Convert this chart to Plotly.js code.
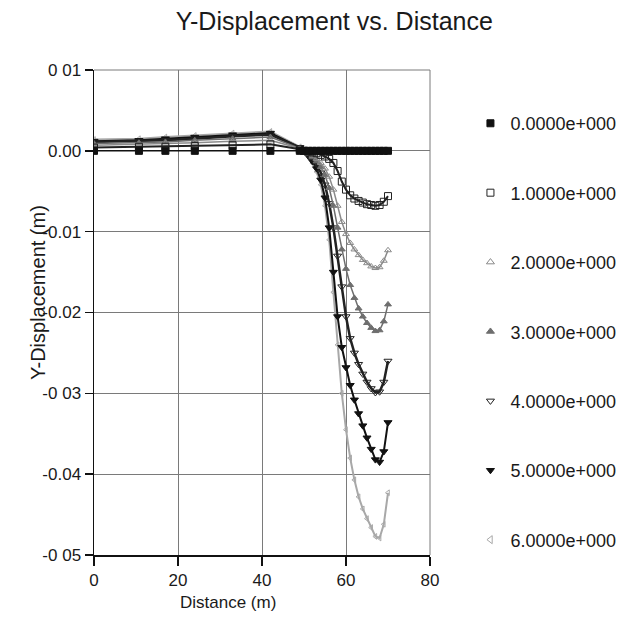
<!DOCTYPE html>
<html>
<head>
<meta charset="utf-8">
<script src="https://cdn.plot.ly/plotly-3.0.1.min.js"></script>
<style>html,body{margin:0;padding:0;background:#fff;}#chart{width:619px;height:633px;}</style>
</head>
<body>
<div id="chart"></div>
<script>
// Distance nodes (m)
var distance = [0, 10.7, 17, 24, 33, 42, 49, 50, 51, 52, 53, 54, 55, 56, 57, 58, 59, 60, 61, 62, 63, 64, 65, 66, 67, 68, 69, 70];

// Y-displacement (m) for each time step
var disp0 = [0, 0, 0, 0, 0, 0, 0, 0, 0, 0, 0, 0, 0, 0, 0, 0, 0, 0, 0, 0, 0, 0, 0, 0, 0, 0, 0, 0];
var disp1 = [0.0004, 0.0005, 0.0005, 0.0006, 0.0007, 0.0008, 0.0002, 0.0000, -0.0001, -0.0002, -0.0003, -0.0005, -0.0007, -0.0010, -0.0015, -0.0025, -0.0038, -0.0048, -0.0055, -0.0059, -0.0062, -0.0064, -0.0066, -0.0067, -0.0068, -0.0067, -0.0063, -0.0056];
var disp2 = [0.0007, 0.0008, 0.0009, 0.0010, 0.0012, 0.0013, 0.0003, 0.0000, -0.0003, -0.0006, -0.0010, -0.0015, -0.0022, -0.0032, -0.0048, -0.0068, -0.0088, -0.0103, -0.0114, -0.0122, -0.0129, -0.0135, -0.0139, -0.0143, -0.0145, -0.0144, -0.0136, -0.0123];
var disp3 = [0.0009, 0.0010, 0.0011, 0.0013, 0.0015, 0.0017, 0.0003, 0.0000, -0.0004, -0.0008, -0.0013, -0.0020, -0.0030, -0.0046, -0.0068, -0.0095, -0.0122, -0.0146, -0.0166, -0.0182, -0.0195, -0.0205, -0.0213, -0.0219, -0.0223, -0.0222, -0.0211, -0.0190];
var disp4 = [0.0011, 0.0012, 0.0013, 0.0015, 0.0018, 0.0020, 0.0004, 0.0000, -0.0005, -0.0010, -0.0017, -0.0027, -0.0042, -0.0065, -0.0095, -0.0130, -0.0168, -0.0205, -0.0232, -0.0250, -0.0264, -0.0276, -0.0286, -0.0294, -0.0299, -0.0298, -0.0286, -0.0260];
var disp5 = [0.0012, 0.0013, 0.0015, 0.0017, 0.0020, 0.0022, 0.0004, 0.0000, -0.0006, -0.0013, -0.0022, -0.0036, -0.0058, -0.0095, -0.0150, -0.0205, -0.0243, -0.0268, -0.0290, -0.0308, -0.0325, -0.0340, -0.0355, -0.0369, -0.0382, -0.0385, -0.0372, -0.0336];
var disp6 = [0.0014, 0.0015, 0.0017, 0.0019, 0.0022, 0.0024, 0.0005, 0.0000, -0.0007, -0.0015, -0.0026, -0.0042, -0.0068, -0.0110, -0.0175, -0.0240, -0.0300, -0.0345, -0.0380, -0.0407, -0.0428, -0.0443, -0.0455, -0.0466, -0.0477, -0.0479, -0.0462, -0.0423];

var seriesNames = ["0.0000e+000", "1.0000e+000", "2.0000e+000", "3.0000e+000", "4.0000e+000", "5.0000e+000", "6.0000e+000"];

// Axis ticks as printed
var xTickVals = [0, 20, 40, 60, 80];
var yTickVals = [0.01, 0, -0.01, -0.02, -0.03, -0.04, -0.05];
var yTickText = ["0 01", "0.00", "-0.01", "-0.02", "-0 03", "-0.04", "-0 05"];

var allDisp = [disp0, disp1, disp2, disp3, disp4, disp5, disp6];
var styles = [
  {sym: "square", mcol: "#111", lcol: "#111", lw: 1.5, size: 7},
  {sym: "square-open", mcol: "#222", lcol: "#222", lw: 2, size: 7},
  {sym: "triangle-up-open", mcol: "#8a8a8a", lcol: "#8a8a8a", lw: 1.5, size: 6},
  {sym: "triangle-up", mcol: "#6e6e6e", lcol: "#6e6e6e", lw: 1.5, size: 6},
  {sym: "triangle-down-open", mcol: "#222", lcol: "#222", lw: 2.5, size: 7},
  {sym: "triangle-down", mcol: "#111", lcol: "#111", lw: 2, size: 7},
  {sym: "triangle-left-open", mcol: "#a8a8a8", lcol: "#a8a8a8", lw: 2, size: 5}
];

var traces = [];
// plotted curves (drawn last-to-first so black curves stay on top of the light one)
for (var i = allDisp.length - 1; i >= 0; i--) {
  var s = styles[i];
  traces.push({
    x: distance,
    y: allDisp[i],
    name: seriesNames[i],
    type: "scatter",
    mode: "lines+markers",
    showlegend: false,
    line: {color: s.lcol, width: s.lw},
    marker: {symbol: s.sym, color: s.mcol, size: s.size, line: {color: s.mcol, width: 1}}
  });
}
// legend entries: markers only, as in the reference
for (var j = 0; j < allDisp.length; j++) {
  var st = styles[j];
  traces.push({
    x: [null],
    y: [null],
    name: seriesNames[j],
    type: "scatter",
    mode: "markers",
    legendgroup: "g" + j,
    showlegend: true,
    marker: {symbol: st.sym, color: st.mcol, size: 7, line: {color: st.mcol, width: 1}}
  });
}

var font = "Liberation Sans, Arial, sans-serif";
var layout = {
  width: 619,
  height: 633,
  margin: {l: 94, r: 189, t: 70, b: 78},
  paper_bgcolor: "#ffffff",
  plot_bgcolor: "#ffffff",
  font: {family: font, color: "#1a1a1a", size: 17},
  title: {text: "Y-Displacement vs. Distance", x: 0.54, xanchor: "center", y: 0.966, yanchor: "middle", font: {size: 25, family: font, color: "#1a1a1a"}},
  xaxis: {
    range: [0, 80],
    tickvals: xTickVals,
    ticks: "outside", ticklen: 9, tickcolor: "#111", tickwidth: 1.5,
    showline: true, linecolor: "#111", linewidth: 1.5,
    showgrid: true, gridcolor: "#7a7a7a", gridwidth: 1,
    zeroline: false,
    tickfont: {size: 17, family: font}
  },
  yaxis: {
    range: [-0.05, 0.01],
    tickvals: yTickVals,
    ticktext: yTickText,
    ticks: "outside", ticklen: 8, tickcolor: "#111", tickwidth: 1.5,
    showline: true, linecolor: "#111", linewidth: 1.5,
    showgrid: true, gridcolor: "#7a7a7a", gridwidth: 1,
    zeroline: false,
    tickfont: {size: 17, family: font}
  },
  shapes: [
    {type: "line", xref: "paper", yref: "paper", x0: 0, x1: 1, y0: 1, y1: 1, line: {color: "#7a7a7a", width: 1}},
    {type: "line", xref: "paper", yref: "paper", x0: 1, x1: 1, y0: 0, y1: 1, line: {color: "#7a7a7a", width: 1}}
  ],
  annotations: [
    {text: "Distance (m)", xref: "paper", yref: "paper", x: 0.4, y: -0.097, xanchor: "center", yanchor: "middle", showarrow: false, font: {size: 17, family: font}},
    {text: "Y-Displacement (m)", xref: "paper", yref: "paper", x: -0.167, y: 0.542, xanchor: "center", yanchor: "middle", textangle: -90, showarrow: false, font: {size: 20, family: font}}
  ],
  legend: {
    xref: "container", yref: "container",
    x: 0.76, xanchor: "left", y: 0.834, yanchor: "top",
    maxheight: 620,
    bgcolor: "rgba(0,0,0,0)",
    font: {size: 18, family: font, color: "#1a1a1a"},
    tracegroupgap: 43,
    itemwidth: 30
  },
  showlegend: true
};

Plotly.newPlot("chart", traces, layout, {displayModeBar: false, staticPlot: true});
</script>
</body>
</html>
